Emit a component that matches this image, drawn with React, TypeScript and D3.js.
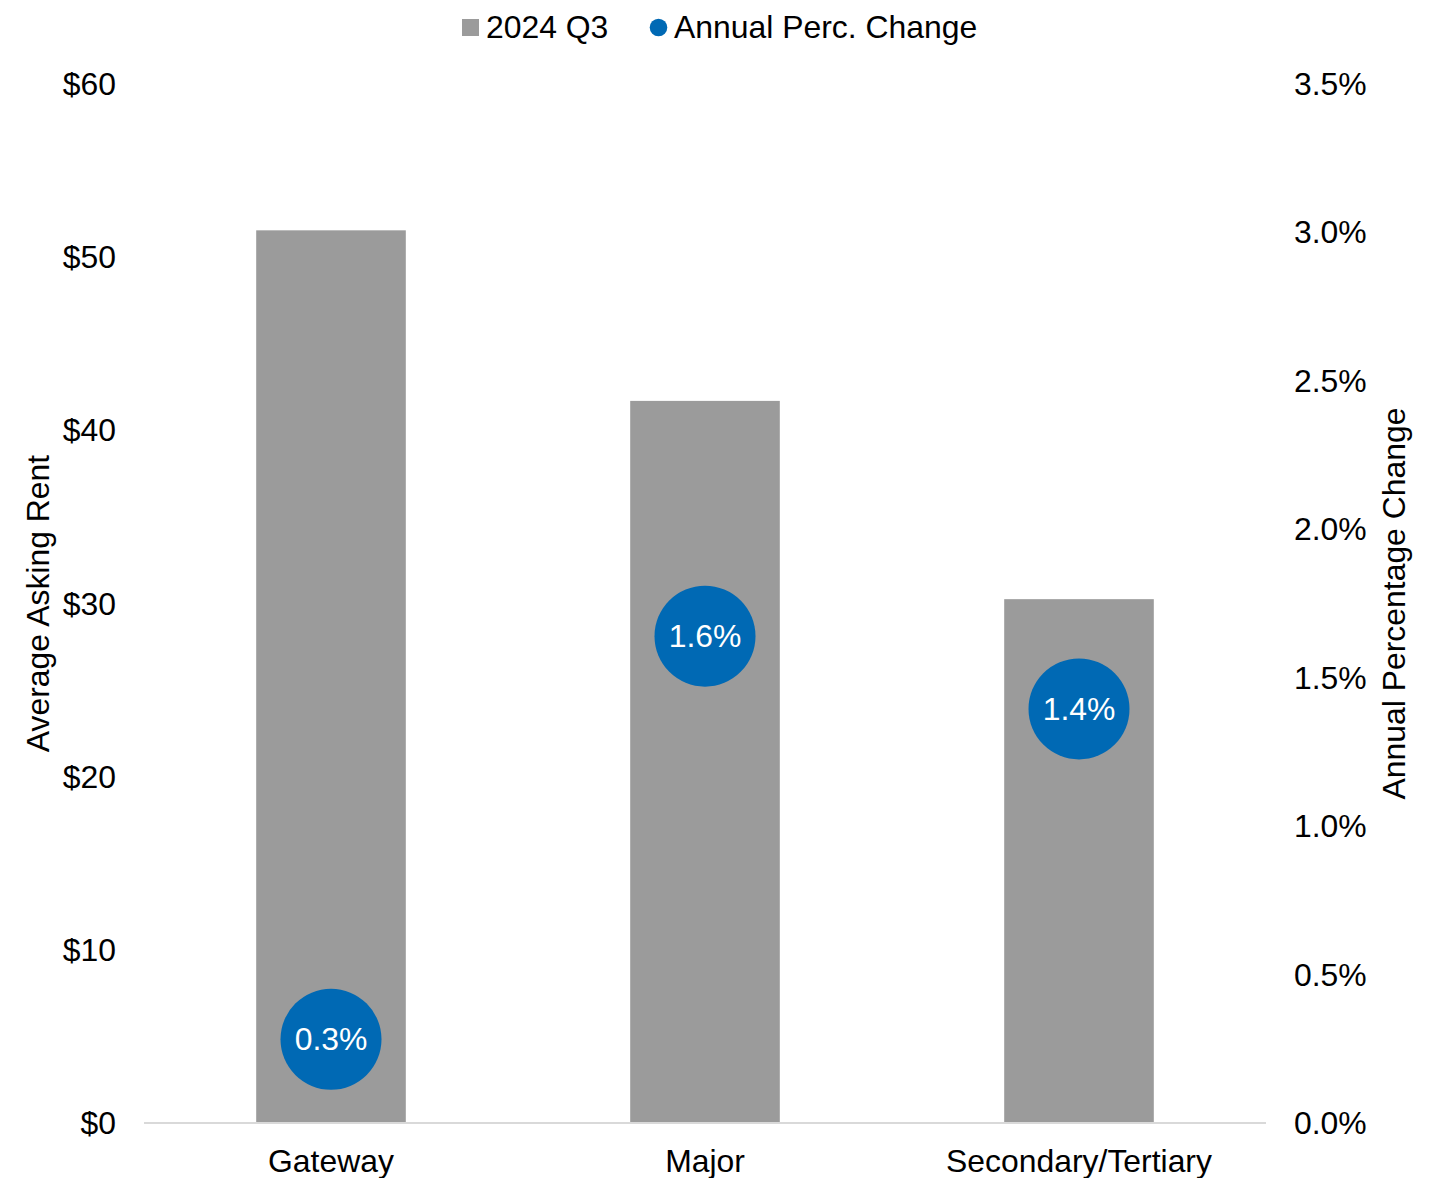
import React from "react";
import * as d3 from "d3";

const categories = ["Gateway", "Major", "Secondary/Tertiary"];
const askingRent = [51.55, 41.7, 30.25];
const annualChange = [0.282, 1.64, 1.395];
const rentTicks = [0, 10, 20, 30, 40, 50, 60];
const pctTicks = [0, 0.5, 1.0, 1.5, 2.0, 2.5, 3.0, 3.5];
const legendLabels = ["2024 Q3", "Annual Perc. Change"];

const W = 1441;
const H = 1178;
const FONT = "'Liberation Sans', Arial, sans-serif";
const FS = 31.9;
const BAR = "#9b9b9b";
const DOT = "#0069b4";

export default function App() {
  const left = 144;
  const right = 1266;
  const top = 84;
  const bottom = 1123;

  const x = d3.scaleBand<string>().domain(categories).range([left, right]).paddingInner(0.6).paddingOuter(0.3);
  const yL = d3.scaleLinear().domain([0, 60]).range([bottom, top]);
  const yR = d3.scaleLinear().domain([0, 3.5]).range([bottom, top]);
  const cx = (c: string) => (x(c) ?? 0) + x.bandwidth() / 2;

  return (
    <svg width={W} height={H} style={{ position: "absolute", left: 0, top: 0, background: "#fff" }} fontFamily={FONT}>
      {/* legend */}
      <g>
        <rect x={462} y={19} width={17} height={17} fill={BAR} />
        <text x={486} y={27} dominantBaseline="central" fontSize={FS} fill="#000">{legendLabels[0]}</text>
        <circle cx={658.5} cy={27.5} r={8.8} fill={DOT} />
        <text x={674} y={27} dominantBaseline="central" fontSize={FS} fill="#000">{legendLabels[1]}</text>
      </g>

      {/* bars */}
      {categories.map((c, i) => (
        <rect key={c} x={x(c)} y={yL(askingRent[i])} width={x.bandwidth()} height={bottom - yL(askingRent[i])} fill={BAR} />
      ))}

      {/* x axis line */}
      <line x1={left} x2={right} y1={bottom} y2={bottom} stroke="#d9d9d9" strokeWidth={2} />

      {/* left ticks */}
      {rentTicks.map((t) => (
        <text key={t} x={116} y={yL(t)} textAnchor="end" dominantBaseline="central" fontSize={FS} fill="#000">
          {d3.format("$,.0f")(t)}
        </text>
      ))}

      {/* right ticks */}
      {pctTicks.map((t) => (
        <text key={t} x={1294} y={yR(t)} textAnchor="start" dominantBaseline="central" fontSize={FS} fill="#000">
          {d3.format(".1f")(t) + "%"}
        </text>
      ))}

      {/* category labels */}
      {categories.map((c) => (
        <text key={c} x={cx(c)} y={1161} textAnchor="middle" dominantBaseline="central" fontSize={FS} fill="#000">
          {c}
        </text>
      ))}

      {/* dots */}
      {categories.map((c, i) => (
        <g key={c}>
          <circle cx={cx(c)} cy={yR(annualChange[i])} r={50.5} fill={DOT} />
          <text x={cx(c)} y={yR(annualChange[i])} textAnchor="middle" dominantBaseline="central" fontSize={FS} fill="#fff">
            {d3.format(".1f")(annualChange[i]) + "%"}
          </text>
        </g>
      ))}

      {/* axis titles */}
      <text transform={`translate(38,${(top + bottom) / 2}) rotate(-90)`} textAnchor="middle" dominantBaseline="central" fontSize={FS} fill="#000">
        Average Asking Rent
      </text>
      <text transform={`translate(1394,${(top + bottom) / 2}) rotate(-90)`} textAnchor="middle" dominantBaseline="central" fontSize={FS} fill="#000">
        Annual Percentage Change
      </text>
    </svg>
  );
}
